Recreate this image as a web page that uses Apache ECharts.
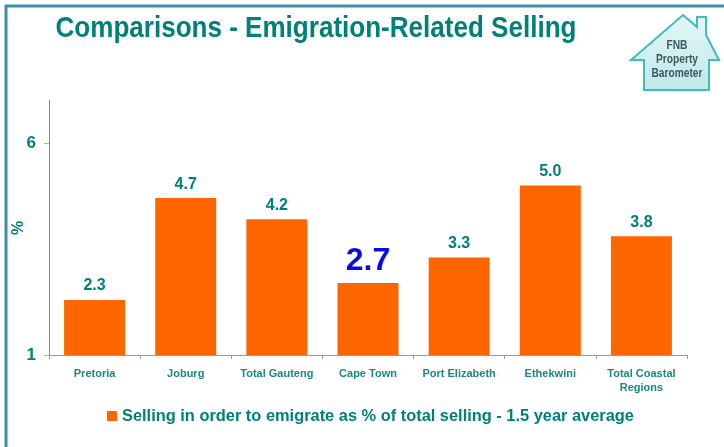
<!DOCTYPE html>
<html>
<head>
<meta charset="utf-8">
<script src="https://cdn.jsdelivr.net/npm/echarts@6/dist/echarts.min.js"></script>
<style>html,body{margin:0;padding:0;background:#fff}#c{width:724px;height:447px}</style>
</head>
<body>
<div id="c"></div>
<script>
var categories = ['Pretoria', 'Joburg', 'Total Gauteng', 'Cape Town', 'Port Elizabeth', 'Ethekwini', 'Total Coastal\nRegions'];
var values = [2.3, 4.7, 4.2, 2.7, 3.3, 5.0, 3.8];
var yTicks = [1, 6];
var seriesName = 'Selling in order to emigrate as % of total selling - 1.5 year average';
var titleText = 'Comparisons - Emigration-Related Selling';

var TEAL = '#00807a';
var FONT = "'Liberation Sans', Arial, sans-serif";
var chart = echarts.init(document.getElementById('c'));
var data = values.map(function (v, i) {
  if (categories[i] === 'Cape Town') {
    return { value: v, label: { color: '#0a0aee', fontSize: 32, distance: 6 } };
  }
  return v;
});
chart.setOption({
  animation: false,
  backgroundColor: '#fff',
  legend: {
    data: [seriesName], left: 102, top: 403, itemWidth: 10, itemHeight: 10, itemGap: 4,
    icon: 'rect',
    textStyle: { color: TEAL, fontSize: 16.4, fontWeight: 'bold', fontFamily: FONT }
  },
  grid: { left: 49, right: 37, top: 100.6, bottom: 92, containLabel: false, outerBoundsMode: 'none' },
  xAxis: {
    type: 'category', data: categories,
    axisLine: { lineStyle: { color: '#6aaeae', width: 1 } },
    axisTick: { show: true, length: 4, lineStyle: { color: '#6aaeae' } },
    axisLabel: { color: '#1a8884', fontSize: 11, fontWeight: 'bold', fontFamily: FONT, margin: 12, lineHeight: 14, interval: 0 }
  },
  yAxis: {
    type: 'value', min: 1, max: 7,
    name: '%', nameLocation: 'middle', nameGap: 22, nameRotate: 90, nameMoveOverlap: false,
    nameTextStyle: { color: TEAL, fontSize: 16, fontWeight: 'bold', fontFamily: FONT },
    axisLine: { show: true, lineStyle: { color: '#4aa0a0', width: 1 } },
    axisTick: { show: true, length: 5, customValues: yTicks, lineStyle: { color: '#8cc4c4' } },
    axisLabel: { customValues: yTicks, color: TEAL, fontSize: 17, fontWeight: 'bold', fontFamily: FONT, margin: 13 },
    splitLine: { show: false }
  },
  series: [{
    name: seriesName, type: 'bar', data: data, barWidth: 61,
    itemStyle: { color: '#ff6600' },
    label: { show: true, position: 'top', distance: 6, color: TEAL, fontSize: 16, fontWeight: 'bold', fontFamily: FONT,
      formatter: function (p) { return p.value.toFixed(1); } }
  }],
  graphic: [
    { type: 'polyline', shape: { points: [[6, 447], [6, 6], [724, 6]] }, style: { stroke: '#3b8fa6', lineWidth: 3, fill: null } },
    { type: 'text', x: 316, y: 14, scaleX: 0.868,
      style: { text: titleText, align: 'center', verticalAlign: 'top', fill: TEAL, font: 'bold 30px ' + FONT } },
    { type: 'polygon', shape: { points: [[683, 15], [697, 27], [697, 17], [706, 17], [706, 35], [719, 60], [709, 60], [709, 90], [644, 90], [644, 60], [631, 60]] },
      style: { stroke: '#3fbcbc', lineWidth: 2,
        fill: new echarts.graphic.LinearGradient(0, 0, 0, 1, [{ offset: 0, color: '#e6f7f7' }, { offset: 1, color: '#bfe8e8' }]) } },
    { type: 'text', x: 677, y: 39, scaleX: 0.85,
      style: { text: 'FNB\nProperty\nBarometer', align: 'center', verticalAlign: 'top', lineHeight: 14,
        fill: '#3a5a62', font: 'bold 12px ' + FONT } }
  ]
});
</script>
</body>
</html>
